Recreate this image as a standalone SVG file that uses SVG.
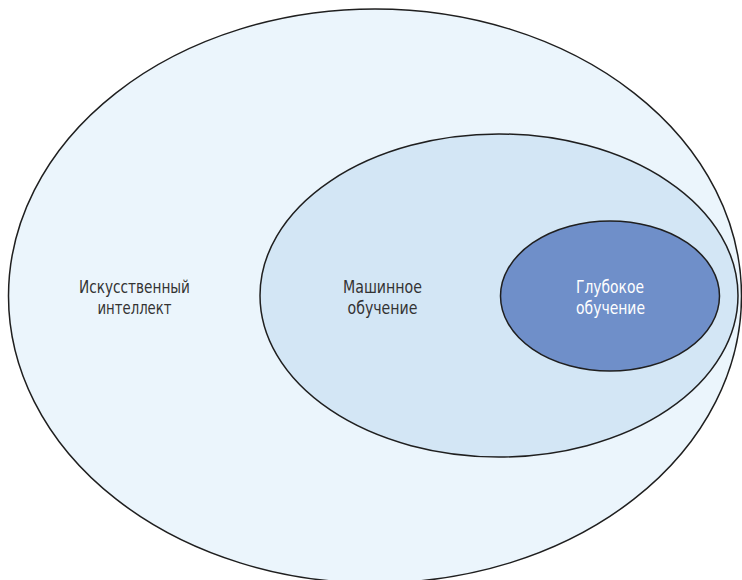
<svg xmlns="http://www.w3.org/2000/svg" width="742" height="580" viewBox="0 0 742 580">
  <style>
    .ring { stroke: #1f1f1f; stroke-width: 1.5; }
    .label { font-family: "DejaVu Sans Condensed", "DejaVu Sans", sans-serif; font-size: 17px; text-anchor: middle; fill: #333333; }
    .label.light { fill: #ffffff; }
  </style>
  <rect width="742" height="580" fill="#ffffff"/>
  <g id="ai">
    <ellipse class="ring" cx="375" cy="296" rx="366.5" ry="287" fill="#ebf5fc"/>
    <text class="label" x="134.5" y="293" textLength="111" lengthAdjust="spacingAndGlyphs">Искусственный</text>
    <text class="label" x="134.5" y="314" textLength="74" lengthAdjust="spacingAndGlyphs">интеллект</text>
  </g>
  <g id="ml">
    <ellipse class="ring" cx="499" cy="295.5" rx="239" ry="161.5" fill="#d3e6f5"/>
    <text class="label" x="382.5" y="293" textLength="79" lengthAdjust="spacingAndGlyphs">Машинное</text>
    <text class="label" x="382.5" y="314" textLength="70" lengthAdjust="spacingAndGlyphs">обучение</text>
  </g>
  <g id="dl">
    <ellipse class="ring" cx="610" cy="296" rx="109.5" ry="75" fill="#6f8fc9"/>
    <text class="label light" x="610" y="293" textLength="68" lengthAdjust="spacingAndGlyphs">Глубокое</text>
    <text class="label light" x="610.5" y="314" textLength="69" lengthAdjust="spacingAndGlyphs">обучение</text>
  </g>
  <g id="connectors"/>
</svg>
